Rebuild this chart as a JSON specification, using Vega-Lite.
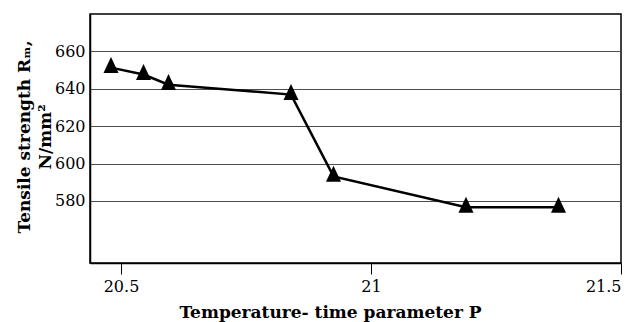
{
  "$schema": "https://vega.github.io/schema/vega-lite/v6.json",
  "width": 531,
  "height": 249,
  "autosize": {"type": "none"},
  "padding": {"left": 90, "top": 14, "right": 11, "bottom": 59},
  "background": "white",
  "config": {
    "view": {"stroke": "black", "strokeWidth": 1.5},
    "font": "DejaVu Serif"
  },
  "data": {
    "values": [
      {"P": 20.48, "Rm": 651.3},
      {"P": 20.545, "Rm": 647.6},
      {"P": 20.595, "Rm": 642.2},
      {"P": 20.84, "Rm": 636.9},
      {"P": 20.925, "Rm": 593.1},
      {"P": 21.19, "Rm": 576.6},
      {"P": 21.375, "Rm": 576.6}
    ]
  },
  "encoding": {
    "x": {
      "field": "P",
      "type": "quantitative",
      "scale": {"domain": [20.438, 21.5], "nice": false, "zero": false},
      "axis": {
        "values": [20.5, 21, 21.5],
        "format": "~g",
        "grid": false,
        "tickSize": 11,
        "tickColor": "black",
        "tickWidth": 1,
        "domainColor": "black",
        "domainWidth": 1.5,
        "labelFont": "DejaVu Serif",
        "labelFontSize": 16,
        "labelColor": "black",
        "labelPadding": 4,
        "title": "Temperature- time parameter P",
        "titleFont": "DejaVu Serif",
        "titleFontSize": 17,
        "titleFontWeight": "bold",
        "titleColor": "black",
        "titleX": 240,
        "titleY": 54,
        "titleAlign": "center",
        "titleBaseline": "alphabetic"
      }
    },
    "y": {
      "field": "Rm",
      "type": "quantitative",
      "scale": {"domain": [546.8, 680], "nice": false, "zero": false},
      "axis": {
        "values": [580, 600, 620, 640, 660],
        "grid": true,
        "gridColor": "#4d4d4d",
        "gridWidth": 1.2,
        "ticks": false,
        "domainColor": "black",
        "domainWidth": 1.5,
        "labelFont": "DejaVu Serif",
        "labelFontSize": 16,
        "labelColor": "black",
        "labelPadding": 5,
        "title": ["Tensile strength Rₘ,", "N/mm²"],
        "titleFont": "DejaVu Serif",
        "titleFontSize": 17,
        "titleFontWeight": "bold",
        "titleColor": "black",
        "titleAngle": -90,
        "titleX": -61,
        "titleY": 122.5,
        "titleAlign": "center",
        "titleBaseline": "alphabetic",
        "titleLineHeight": 21
      }
    }
  },
  "layer": [
    {"mark": {"type": "line", "color": "black", "strokeWidth": 2.5}},
    {
      "mark": {
        "type": "point",
        "shape": "M0,-1.33L-0.94,0.67L0.94,0.67Z",
        "filled": true,
        "color": "black",
        "opacity": 1,
        "size": 256
      }
    }
  ]
}
